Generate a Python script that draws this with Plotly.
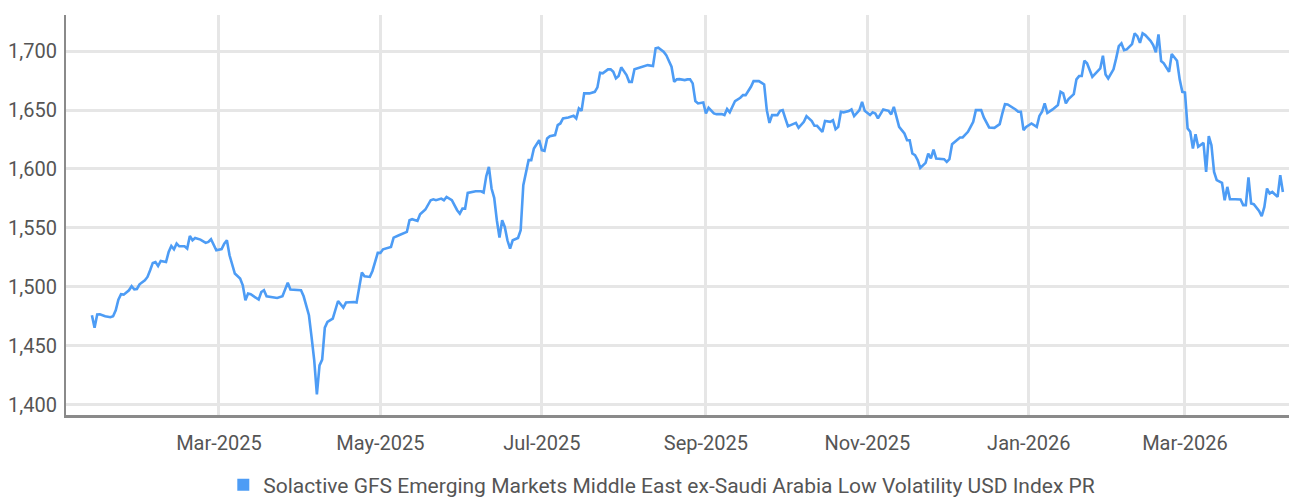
import plotly.graph_objects as go

series_name = "Solactive GFS Emerging Markets Middle East ex-Saudi Arabia Low Volatility USD Index PR"

dates = [
"2025-01-12","2025-01-13","2025-01-14","2025-01-15","2025-01-17","2025-01-19","2025-01-20","2025-01-21","2025-01-22","2025-01-23",
"2025-01-24","2025-01-26","2025-01-27","2025-01-28","2025-01-29","2025-01-30","2025-02-01","2025-02-02","2025-02-03","2025-02-04",
"2025-02-05","2025-02-06","2025-02-07","2025-02-09","2025-02-10","2025-02-11","2025-02-12","2025-02-13","2025-02-14","2025-02-16",
"2025-02-17","2025-02-18","2025-02-19","2025-02-20","2025-02-22","2025-02-24","2025-02-25","2025-02-26","2025-02-28","2025-03-02",
"2025-03-03","2025-03-04","2025-03-05","2025-03-07","2025-03-09","2025-03-10","2025-03-11","2025-03-12","2025-03-13","2025-03-15",
"2025-03-16","2025-03-17","2025-03-18","2025-03-19","2025-03-21","2025-03-23","2025-03-25","2025-03-26","2025-03-27","2025-03-28",
"2025-03-30","2025-04-01","2025-04-02","2025-04-04","2025-04-05","2025-04-06","2025-04-07","2025-04-08","2025-04-09","2025-04-10",
"2025-04-11","2025-04-13","2025-04-15","2025-04-17","2025-04-18","2025-04-21","2025-04-22","2025-04-24","2025-04-25","2025-04-27",
"2025-04-28","2025-04-30","2025-05-01","2025-05-02","2025-05-05","2025-05-06","2025-05-08","2025-05-11","2025-05-12","2025-05-13",
"2025-05-15","2025-05-16","2025-05-18","2025-05-20","2025-05-21","2025-05-22","2025-05-24","2025-05-25","2025-05-26","2025-05-28",
"2025-05-30","2025-05-31","2025-06-01","2025-06-02","2025-06-03","2025-06-05","2025-06-06","2025-06-08","2025-06-09","2025-06-10",
"2025-06-11","2025-06-12","2025-06-13","2025-06-14","2025-06-15","2025-06-16","2025-06-17","2025-06-18","2025-06-19","2025-06-20",
"2025-06-22","2025-06-23","2025-06-24","2025-06-26","2025-06-27","2025-06-28","2025-06-30","2025-07-01","2025-07-02","2025-07-03",
"2025-07-04","2025-07-06","2025-07-07","2025-07-08","2025-07-09","2025-07-11","2025-07-13","2025-07-14","2025-07-15","2025-07-16",
"2025-07-17","2025-07-19","2025-07-21","2025-07-22","2025-07-23","2025-07-24","2025-07-26","2025-07-27","2025-07-28","2025-07-29",
"2025-07-30","2025-07-31","2025-08-02","2025-08-03","2025-08-04","2025-08-05","2025-08-07","2025-08-08","2025-08-10","2025-08-12",
"2025-08-13","2025-08-14","2025-08-16","2025-08-17","2025-08-18","2025-08-19","2025-08-20","2025-08-21","2025-08-22","2025-08-24",
"2025-08-25","2025-08-26","2025-08-27","2025-08-28","2025-08-29","2025-08-31","2025-09-01","2025-09-02","2025-09-04","2025-09-05",
"2025-09-07","2025-09-08","2025-09-09","2025-09-10","2025-09-12","2025-09-14","2025-09-15","2025-09-16","2025-09-18","2025-09-19",
"2025-09-21","2025-09-22","2025-09-23","2025-09-24","2025-09-25","2025-09-26","2025-09-28","2025-09-29","2025-09-30","2025-10-01",
"2025-10-02","2025-10-03","2025-10-05","2025-10-06","2025-10-08","2025-10-09","2025-10-11","2025-10-12","2025-10-13","2025-10-15",
"2025-10-16","2025-10-18","2025-10-19","2025-10-20","2025-10-21","2025-10-22","2025-10-23","2025-10-25","2025-10-26","2025-10-27",
"2025-10-29","2025-10-30","2025-10-31","2025-11-02","2025-11-03","2025-11-04","2025-11-05","2025-11-07","2025-11-09","2025-11-10",
"2025-11-11","2025-11-13","2025-11-15","2025-11-16","2025-11-17","2025-11-18","2025-11-19","2025-11-20","2025-11-21","2025-11-23",
"2025-11-24","2025-11-25","2025-11-26","2025-11-27","2025-11-30","2025-12-01","2025-12-02","2025-12-03","2025-12-05","2025-12-06",
"2025-12-07","2025-12-09","2025-12-10","2025-12-11","2025-12-12","2025-12-14","2025-12-15","2025-12-17","2025-12-19","2025-12-21",
"2025-12-22","2025-12-23","2025-12-24","2025-12-26","2025-12-27","2025-12-28","2025-12-29","2025-12-30","2025-12-31","2026-01-02",
"2026-01-04","2026-01-05","2026-01-06","2026-01-07","2026-01-08","2026-01-10","2026-01-12","2026-01-13","2026-01-14","2026-01-15",
"2026-01-16","2026-01-18","2026-01-19","2026-01-20","2026-01-21","2026-01-22","2026-01-23","2026-01-25","2026-01-27","2026-01-28",
"2026-01-29","2026-01-30","2026-01-31","2026-02-02","2026-02-03","2026-02-04","2026-02-05","2026-02-06","2026-02-07","2026-02-09",
"2026-02-10","2026-02-11","2026-02-12","2026-02-13","2026-02-14","2026-02-16","2026-02-17","2026-02-18","2026-02-19","2026-02-20",
"2026-02-21","2026-02-23","2026-02-24","2026-02-26","2026-02-27","2026-02-28","2026-03-01","2026-03-02","2026-03-03","2026-03-04",
"2026-03-05","2026-03-06","2026-03-08","2026-03-09","2026-03-10","2026-03-11","2026-03-12","2026-03-13","2026-03-15","2026-03-16",
"2026-03-17","2026-03-18","2026-03-20","2026-03-22","2026-03-23","2026-03-24","2026-03-25","2026-03-26","2026-03-27","2026-03-29",
"2026-03-30","2026-03-31","2026-04-01","2026-04-02","2026-04-03","2026-04-04","2026-04-05","2026-04-06","2026-04-07",
]

values = [
1475.9,1465.4,1476.5,1476.7,1475.0,1474.2,1475.0,1480.1,1489.2,1493.7,
1493.4,1497.1,1500.5,1497.9,1498.2,1502.2,1505.6,1508.4,1514.1,1520.3,
1521.1,1517.7,1522.0,1521.1,1529.6,1534.7,1531.9,1536.7,1534.4,1534.4,
1532.5,1543.2,1539.5,1541.5,1540.1,1537.3,1538.1,1540.4,1531.0,1532.1,
1536.7,1539.5,1526.8,1511.3,1507.0,1501.3,1488.6,1494.3,1493.7,1490.9,
1489.2,1495.6,1497.1,1492.0,1491.4,1490.6,1492.0,1497.9,1503.6,1497.7,
1497.1,1497.1,1492.0,1475.9,1457.4,1437.6,1408.8,1433.4,1438.3,1465.4,
1470.2,1473.1,1488.0,1482.4,1486.7,1487.2,1486.7,1512.2,1509.0,1508.4,
1513.5,1528.8,1528.8,1531.9,1533.9,1541.8,1543.8,1546.6,1556.5,1557.4,
1555.9,1561.6,1565.6,1573.5,1574.3,1573.5,1574.9,1573.5,1576.3,1573.5,
1565.0,1562.2,1566.4,1566.4,1579.7,1580.5,1581.1,1581.1,1580.0,1593.9,
1601.8,1583.4,1575.5,1556.5,1541.8,1556.5,1550.8,1539.5,1532.5,1539.5,
1541.5,1548.0,1586.2,1607.5,1607.5,1617.4,1624.4,1616.0,1615.4,1625.9,
1627.8,1628.7,1637.2,1638.6,1642.9,1643.7,1645.1,1642.9,1651.4,1649.3,
1664.1,1664.1,1665.4,1669.2,1681.6,1681.1,1684.5,1684.5,1682.4,1676.8,
1678.8,1686.2,1679.6,1673.9,1673.9,1684.5,1686.2,1686.7,1688.1,1687.3,
1702.3,1702.8,1699.4,1696.6,1691.8,1686.7,1673.9,1676.0,1676.2,1675.4,
1676.0,1676.0,1672.6,1657.6,1655.6,1656.4,1647.1,1651.9,1647.1,1646.5,
1646.5,1645.7,1650.8,1648.0,1657.6,1660.4,1662.6,1662.6,1669.7,1674.5,
1674.5,1673.4,1671.7,1649.9,1639.1,1645.7,1645.7,1649.3,1649.9,1642.9,
1636.3,1637.2,1639.1,1634.9,1640.0,1644.8,1640.6,1636.6,1636.6,1631.5,
1640.8,1640.0,1641.4,1633.8,1635.7,1648.5,1648.0,1649.1,1650.5,1644.8,
1649.9,1657.0,1649.3,1645.7,1648.0,1647.1,1642.9,1650.5,1649.3,1646.3,
1652.7,1635.7,1630.1,1624.4,1624.4,1613.1,1611.7,1607.5,1600.9,1605.2,
1613.1,1608.9,1616.5,1608.9,1608.3,1606.0,1608.3,1621.0,1624.4,1626.7,
1626.7,1631.5,1635.7,1640.0,1649.9,1649.9,1643.7,1635.2,1634.9,1638.0,
1647.1,1655.0,1654.7,1652.2,1650.5,1648.5,1648.5,1632.9,1635.7,1638.6,
1635.7,1645.0,1648.5,1655.6,1647.5,1650.5,1654.2,1665.4,1664.1,1655.6,
1659.2,1663.5,1676.0,1678.8,1678.8,1691.8,1689.6,1678.2,1682.4,1685.3,
1696.0,1680.2,1676.8,1684.5,1693.8,1704.2,1706.5,1700.8,1701.4,1705.9,
1715.0,1712.7,1707.0,1715.0,1713.6,1708.7,1705.1,1698.9,1714.2,1691.5,
1689.6,1682.4,1697.5,1691.8,1676.0,1665.4,1664.9,1634.4,1631.5,1617.4,
1629.5,1618.8,1622.1,1597.5,1627.8,1620.2,1597.5,1590.5,1588.2,1573.5,
1584.8,1574.3,1574.3,1574.1,1569.3,1569.3,1592.8,1570.7,1570.1,1564.4,
1559.9,1567.8,1583.4,1579.2,1580.5,1578.6,1576.3,1594.7,1580.5,
]

x_ticks = ["2025-03-01","2025-05-01","2025-07-01","2025-09-01","2025-11-01","2026-01-01","2026-03-01"]
y_ticks = [1400, 1450, 1500, 1550, 1600, 1650, 1700]

LINE = "#4d9cf5"
FONT = "Roboto, sans-serif"
TXT = "#555555"

fig = go.Figure()
fig.add_trace(go.Scatter(x=dates, y=values, mode="lines", name=series_name,
                         line=dict(color=LINE, width=2.6), showlegend=False,
                         hoverinfo="x+y"))
fig.add_trace(go.Scatter(x=[None], y=[None], mode="markers", name=series_name,
                         marker=dict(symbol="square", size=12, color=LINE),
                         showlegend=True))

fig.update_layout(
    width=1289, height=490,
    margin=dict(l=58, r=0, t=7, b=83, autoexpand=False),
    paper_bgcolor="white", plot_bgcolor="white",
    font=dict(family=FONT, size=20, color=TXT),
    showlegend=True,
    legend=dict(orientation="h", x=0.484, xanchor="center", y=-0.175, yanchor="middle",
                font=dict(family=FONT, size=21, color=TXT),
                itemwidth=30, bgcolor="rgba(0,0,0,0)"),
    xaxis=dict(
        type="date",
        range=["2025-01-02 05:00", "2026-04-12 08:00"],
        tickmode="array", tickvals=x_ticks, tickformat="%b-%Y",
        showgrid=True, gridcolor="#e6e6e6", gridwidth=2.5,
        showline=True, linecolor="#8a8a8a", linewidth=2.5,
        ticks="", zeroline=False, automargin=False,
        ticklabelstandoff=8,
        tickfont=dict(family=FONT, size=20, color=TXT),
    ),
    yaxis=dict(
        range=[1391.3, 1730.6],
        tickmode="array", tickvals=y_ticks, tickformat=",",
        showgrid=True, gridcolor="#e6e6e6", gridwidth=2.5,
        showline=True, linecolor="#8a8a8a", linewidth=2,
        ticks="", zeroline=False, automargin=False,
        ticklabelstandoff=3,
        tickfont=dict(family=FONT, size=20, color=TXT),
    ),
)

fig.write_html("out.html")
